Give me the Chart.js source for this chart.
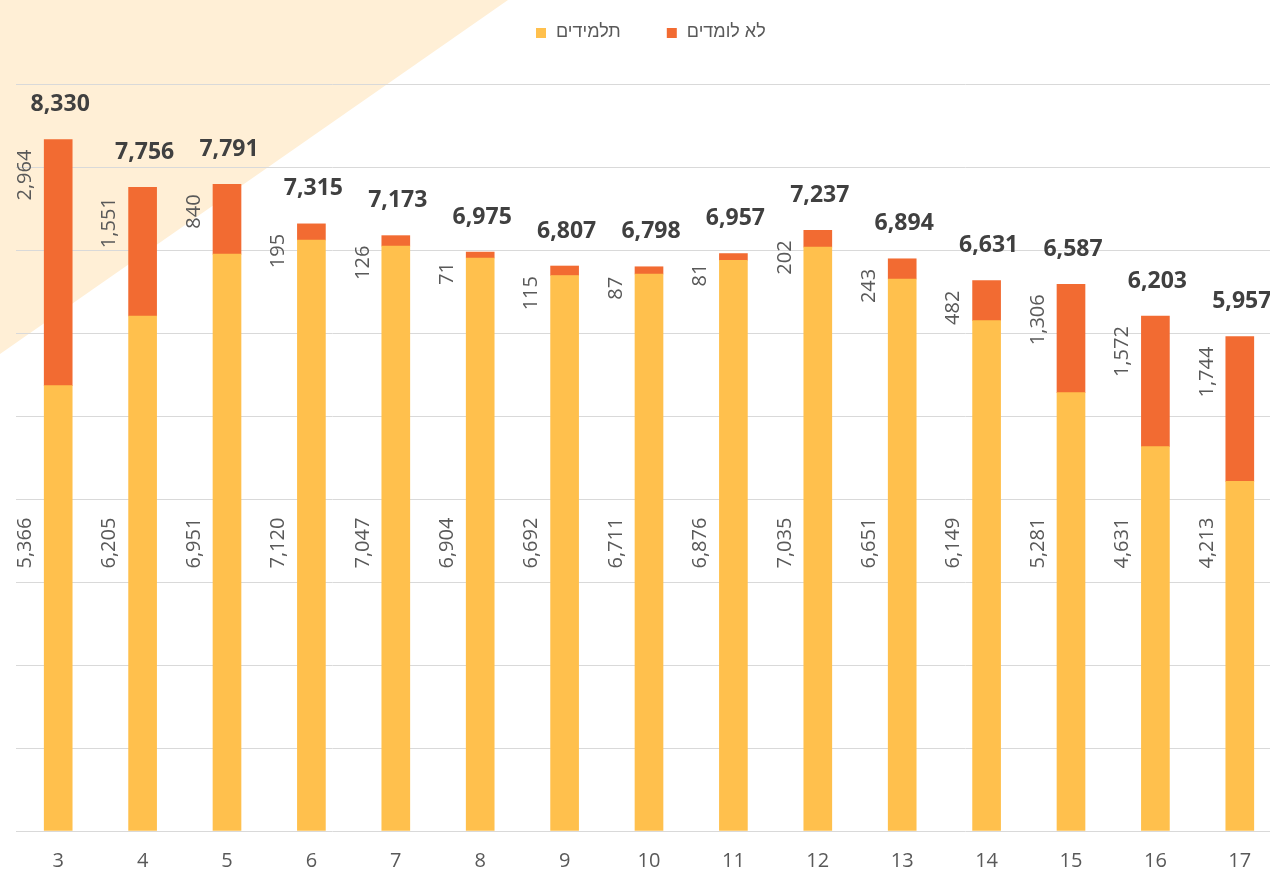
<!DOCTYPE html>
<html>
<head>
<meta charset="utf-8">
<script src="https://cdn.jsdelivr.net/npm/chart.js@4.4.1/dist/chart.umd.min.js"></script>
<style>
  html, body { margin: 0; padding: 0; overflow: hidden; background: #fff; }
  #wrap { width: 1282px; height: 873px; }
</style>
</head>
<body>
<div id="wrap"><canvas id="chart" width="1282" height="873"></canvas></div>
<script>
// grades (x axis)
const grades = ['3', '4', '5', '6', '7', '8', '9', '10', '11', '12', '13', '14', '15', '16', '17'];
// students in school
const students = [5366, 6205, 6951, 7120, 7047, 6904, 6692, 6711, 6876, 7035, 6651, 6149, 5281, 4631, 4213];
// not studying
const dropouts = [2964, 1551, 840, 195, 126, 71, 115, 87, 81, 202, 243, 482, 1306, 1572, 1744];
const seriesNames = ['תלמידים', 'לא לומדים'];
const yMax = 9000;
const yStep = 1000;

const colors = ['#FFC04D', '#F26B32'];
const fmt = n => n.toLocaleString('en-US');
const NUM_FONT = '"Open Sans", "DejaVu Sans", sans-serif';

// corner triangle + legend + data labels
const decorations = {
  id: 'decorations',
  beforeDraw(chart) {
    const ctx = chart.ctx;
    ctx.save();
    ctx.fillStyle = '#FFEFD6';
    ctx.beginPath();
    ctx.moveTo(0, 0);
    ctx.lineTo(508, 0);
    ctx.lineTo(0, 354);
    ctx.closePath();
    ctx.fill();
    ctx.restore();
  },
  afterDraw(chart) {
    const ctx = chart.ctx;
    ctx.save();

    // legend
    ctx.font = '18px "Liberation Sans", "DejaVu Sans", sans-serif';
    ctx.textBaseline = 'middle';
    ctx.textAlign = 'left';
    let x = 536;
    chart.data.datasets.forEach(d => {
      const w = ctx.measureText(d.label).width;
      ctx.fillStyle = d.backgroundColor;
      ctx.fillRect(x, 28, 10, 10);
      ctx.fillStyle = '#595959';
      ctx.fillText(d.label, x + 20, 32);
      x += 20 + w + 46;
    });

    // value labels
    const { top, bottom } = chart.chartArea;
    const m0 = chart.getDatasetMeta(0);
    const m1 = chart.getDatasetMeta(1);
    const rot = (txt, cx, cy) => {
      ctx.save();
      ctx.translate(cx, cy);
      ctx.rotate(-Math.PI / 2);
      ctx.textAlign = 'center';
      ctx.textBaseline = 'middle';
      ctx.fillText(txt, 0, 0);
      ctx.restore();
    };
    m0.data.forEach((bar, i) => {
      const lx = bar.x - bar.width / 2 - 19;
      ctx.font = '20px ' + NUM_FONT;
      ctx.fillStyle = '#595959';
      rot(fmt(students[i]), lx, bottom - 0.3855 * (bottom - top));
      const topBar = m1.data[i];
      const t = fmt(dropouts[i]);
      const w = ctx.measureText(t).width;
      rot(t, lx, topBar.y + 10 + w / 2);

      ctx.font = 'bold 23px ' + NUM_FONT;
      ctx.fillStyle = '#404040';
      ctx.textAlign = 'center';
      ctx.textBaseline = 'middle';
      ctx.fillText(fmt(students[i] + dropouts[i]), bar.x + 2, topBar.y - 35);
    });
    ctx.restore();
  }
};

new Chart(document.getElementById('chart'), {
  type: 'bar',
  data: {
    labels: grades,
    datasets: [
      { label: seriesNames[0], data: students, backgroundColor: colors[0] },
      { label: seriesNames[1], data: dropouts, backgroundColor: colors[1] }
    ]
  },
  options: {
    responsive: false,
    animation: false,
    layout: { padding: { top: 84, left: 0, right: 0, bottom: 0 } },
    datasets: { bar: { barThickness: 28 } },
    plugins: {
      legend: { display: false },
      tooltip: { enabled: false }
    },
    scales: {
      x: {
        stacked: true,
        grid: { display: false, drawTicks: false },
        border: { display: false },
        afterFit: s => { s.height = 42; },
        ticks: { color: '#595959', font: { size: 20, family: NUM_FONT }, padding: 18, maxRotation: 0 }
      },
      y: {
        stacked: true,
        min: 0,
        max: yMax,
        afterFit: s => { s.width = 16; },
        ticks: { display: false, stepSize: yStep },
        grid: { color: '#D9D9D9', lineWidth: 1, drawTicks: false },
        border: { display: false }
      }
    }
  },
  plugins: [decorations]
});
</script>
</body>
</html>
